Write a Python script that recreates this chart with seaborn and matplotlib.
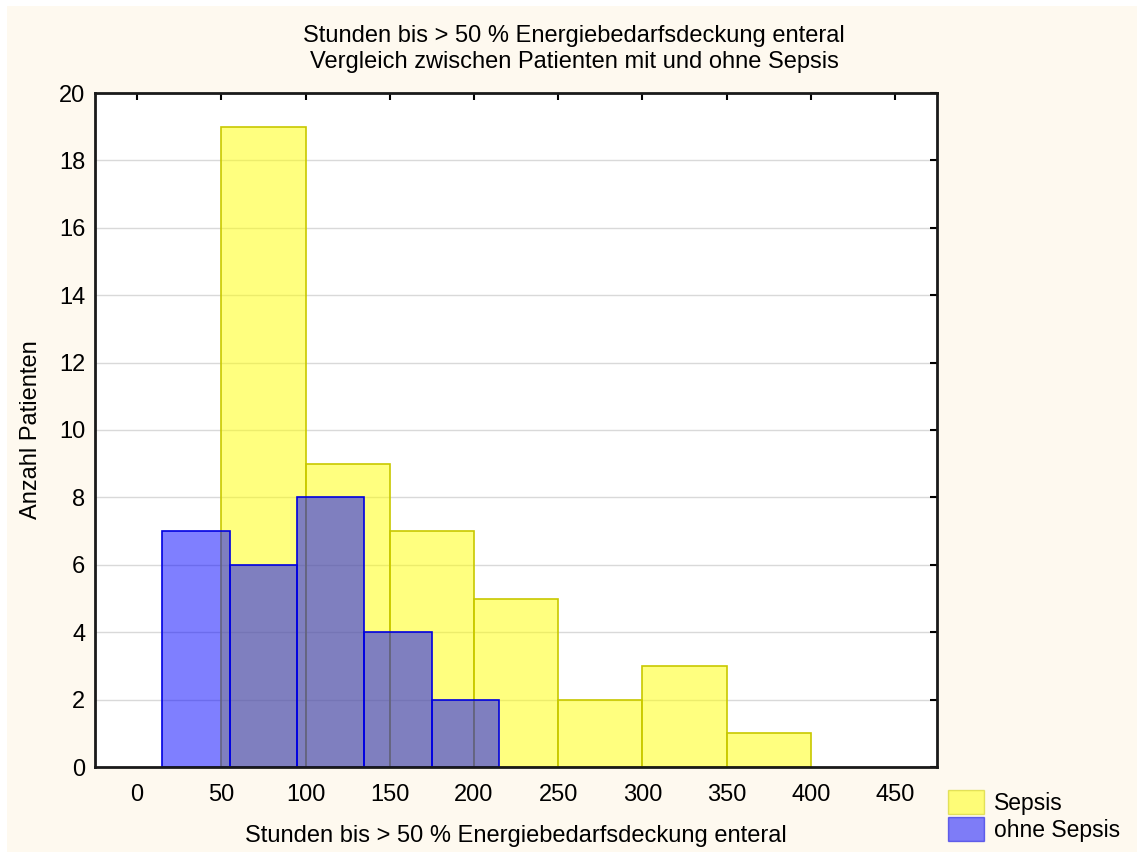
import matplotlib
matplotlib.use("Agg")
import matplotlib.pyplot as plt
import seaborn as sns
from matplotlib.patches import Rectangle, Patch

# Histogrammdaten (Klassengrenzen und Anzahl)
sepsis_kanten = [50, 100, 150, 200, 250, 300, 350, 400]
sepsis_anzahl = [19, 9, 7, 5, 2, 3, 1]
ohne_kanten = [15, 55, 95, 135, 175, 215]
ohne_anzahl = [7, 6, 8, 4, 2]

x_ticks = [0, 50, 100, 150, 200, 250, 300, 350, 400, 450]
y_ticks = [0, 2, 4, 6, 8, 10, 12, 14, 16, 18, 20]

titel = "Stunden bis > 50 % Energiebedarfsdeckung enteral\nVergleich zwischen Patienten mit und ohne Sepsis"
x_label = "Stunden bis > 50 % Energiebedarfsdeckung enteral"
y_label = "Anzahl Patienten"

sns.set_theme(style="white")
plt.rcParams['font.family'] = ['Liberation Sans', 'DejaVu Sans']
plt.rcParams['text.color'] = 'black'
plt.rcParams['axes.labelcolor'] = 'black'

fig = plt.figure(figsize=(11.37, 8.52), dpi=100, facecolor="white")
# cremefarbener Hintergrund mit schmalem weissen Rand
fig.patches.append(Rectangle((7 / 1137, 0), 1 - 7 / 1137, 1 - 6 / 852,
                             transform=fig.transFigure, facecolor="#FEF9EF",
                             edgecolor="none", zorder=-10))
ax = fig.add_axes([95 / 1137, 1 - 767 / 852, (937 - 95) / 1137, (767 - 93) / 852])
ax.set_facecolor("white")

mitte_s = [(a + b) / 2 for a, b in zip(sepsis_kanten[:-1], sepsis_kanten[1:])]
mitte_o = [(a + b) / 2 for a, b in zip(ohne_kanten[:-1], ohne_kanten[1:])]

ax.yaxis.grid(True, color="#D9D9D9", linewidth=1)
ax.set_axisbelow(True)

sns.histplot(x=mitte_s, weights=sepsis_anzahl, bins=sepsis_kanten, ax=ax,
             color="#FFFF00", alpha=0.5, edgecolor="#C8C800", linewidth=1.2)
sns.histplot(x=mitte_o, weights=ohne_anzahl, bins=ohne_kanten, ax=ax,
             color="#0000FF", alpha=0.5, edgecolor="#0000E0", linewidth=1.2)

ax.set_xlim(-25, 475)
ax.set_ylim(0, 20)
ax.set_xticks(x_ticks)
ax.set_yticks(y_ticks)
ax.tick_params(direction="in", length=5, width=1.5, top=True, right=True,
               labelsize=17, colors="black", pad=12)
ax.tick_params(axis="y", pad=7)
for s in ax.spines.values():
    s.set_color("#1a1a1a")
    s.set_linewidth(2)

ax.set_xlabel(x_label, fontsize=17, labelpad=14)
ax.set_ylabel(y_label, fontsize=17, labelpad=12)
fig.text(0.505, 1 - 49 / 852, titel, ha="center", va="center", fontsize=17,
         linespacing=1.25)

griffe = [Patch(facecolor="#FFFF00", alpha=0.5, edgecolor="#C8C800"),
          Patch(facecolor="#0000FF", alpha=0.5, edgecolor="#0000E0")]
fig.legend(griffe, ["Sepsis", "ohne Sepsis"], loc="upper left",
           bbox_to_anchor=(930 / 1137, 1 - 772 / 852), frameon=False,
           fontsize=16.5, handlelength=1.55, handleheight=1.2,
           handletextpad=0.45, labelspacing=0.1, borderpad=0.3)

fig.savefig("out.png", dpi=100, facecolor=fig.get_facecolor())
